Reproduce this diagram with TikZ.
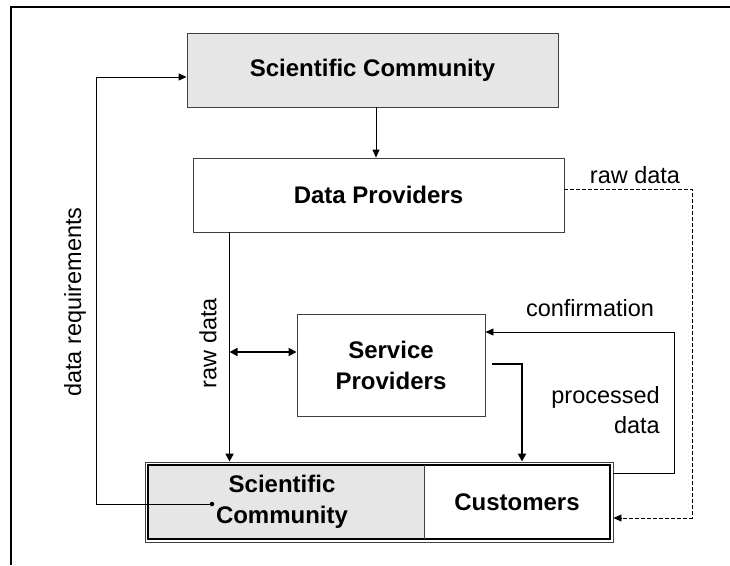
\documentclass[tikz,border=0pt]{standalone}
\usepackage{fontspec}
\setmainfont{Liberation Sans}
\usetikzlibrary{arrows.meta,calc}
\definecolor{boxgray}{HTML}{E6E6E6}
\definecolor{edgegray}{HTML}{404040}

\begin{document}
\begin{tikzpicture}[x=1pt,y=-1pt,
  box/.style={draw=edgegray, line width=0.9pt, inner sep=0pt,
    font=\fontsize{24}{31}\selectfont\bfseries, align=center},
  plain/.style={inner sep=0pt, font=\fontsize{24}{31}\selectfont\bfseries, align=center},
  lbl/.style={font=\fontsize{23.5}{30}\selectfont, inner sep=0pt},
  thinarrow/.style={line width=0.9pt, -{Triangle[length=8pt,width=7pt]}},
  thickarrow/.style={line width=1.8pt, -{Triangle[length=8pt,width=8pt]}},
  dblarrow/.style={line width=1.8pt, {Triangle[length=8pt,width=8pt]}-{Triangle[length=8pt,width=8pt]}},
  dasharrow/.style={line width=0.9pt, dash pattern=on 4pt off 2pt, -{Triangle[length=8pt,width=7pt]}},
  ]
\useasboundingbox (0,0) rectangle (730,565);

% outer frame lines
\draw[line width=2pt] (11,565) -- (11,7) -- (730,7);

% boxes
\node[box, fill=boxgray, minimum width=371pt, minimum height=74pt] (sc1) at (372.5,70) {Scientific Community};
\node[box, minimum width=371pt, minimum height=74pt] (dp) at (378.5,195) {Data Providers};
\node[box, minimum width=188pt, minimum height=102pt] (sp) at (391,365) {Service\\Providers};

% combined bottom box
\node[draw=edgegray, line width=0.9pt, minimum width=468pt, minimum height=80pt] (pair) at (379,502) {};
\node[plain, fill=boxgray, minimum width=276pt, minimum height=74pt] (sc2) at (286,502) {};
\node[plain] at (282,502) {Scientific\\Community};
\node[plain, minimum width=186pt, minimum height=74pt] (cu) at (517,502) {Customers};
\draw[line width=1.8pt] (sc2.north west) rectangle (cu.south east);
\draw[edgegray, line width=0.9pt] (sc2.north east) -- (sc2.south east);

% top-down link
\coordinate (down) at ($(sc1.south)+(3.5,0)$);
\draw[thinarrow] (down) -- (down |- dp.north);

% raw data to the scientific community
\coordinate (rd) at ($(dp.south west)+(37,0)$);
\draw[thickarrow] (rd) -- (rd |- pair.north);

% exchange with service providers
\coordinate (spin) at ($(sp.west)+(0,-13)$);
\draw[dblarrow] (spin -| rd) -- (spin);

% processed data
\coordinate (pout) at ($(sp.east)+(7,-1)$);
\coordinate (pin) at ($(pair.north)+(143,0)$);
\draw[thickarrow] (pout) -| (pin);

% confirmation
\coordinate (cfo) at ($(pair.east)+(0,-29)$);
\coordinate (cfi) at ($(sp.east)+(0,-33)$);
\draw[thinarrow] (cfo) -- ++(61,0) |- (cfi);

% raw data directly to customers
\coordinate (rdo) at ($(dp.east)+(0,-6)$);
\coordinate (rdi) at ($(pair.east)+(0,16)$);
\draw[dasharrow] (rdo) -- ++(128,0) |- (rdi);

% data requirements feedback
\node[circle, fill, inner sep=0pt, minimum size=4.5pt] (dot) at (212,504) {};
\coordinate (dri) at ($(sc1.west)+(0,7)$);
\draw[thinarrow] (dot.center) -- ++(-116,0) |- (dri);

% labels
\node[lbl, rotate=90] (lrd) at (208,343) {raw data};
\node[lbl, rotate=90] (ldr) at (75,302) {data requirements};
\node[lbl] (lrd2) at (635,175) {raw data};
\node[lbl] (lcf) at (590,308) {confirmation};
\node[lbl, align=right, anchor=east] (lpd) at (660,410) {processed\\data};
\end{tikzpicture}
\end{document}
